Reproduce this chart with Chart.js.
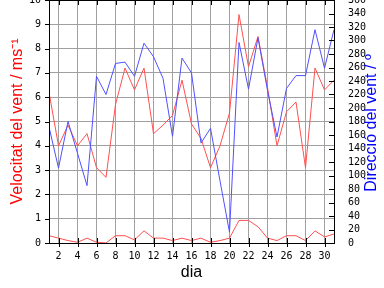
<!DOCTYPE html>
<html>
<head>
<meta charset="utf-8">
<script src="https://cdn.jsdelivr.net/npm/chart.js@4/dist/chart.umd.min.js"></script>
<style>
body { margin: 0; background: #fff; }
</style>
</head>
<body>
<canvas id="wind" width="384" height="288"></canvas>
<script>
let days = [1, 2, 3, 4, 5, 6, 7, 8, 9, 10, 11, 12, 13, 14, 15, 16, 17, 18, 19, 20, 21, 22, 23, 24, 25, 26, 27, 28, 29, 30, 31]
let speed_max = [6.2, 4.0, 4.85, 4.0, 4.5, 3.1, 2.7, 5.7, 7.2, 6.3, 7.2, 4.5, 4.85, 5.25, 6.7, 4.9,
    4.3, 3.1, 4.0, 5.35, 9.4, 7.25, 8.5, 6.4, 4.0, 5.4, 5.8, 3.1, 7.2, 6.3, 6.7]
let speed_mean = [0.3, 0.2, 0.1, 0.03, 0.2, 0.03, 0.0, 0.3, 0.3, 0.13, 0.5, 0.2, 0.2, 0.1, 0.2, 0.1,
    0.2, 0.03, 0.1, 0.2, 0.93, 0.93, 0.67, 0.2, 0.1, 0.3, 0.3, 0.1, 0.5, 0.25, 0.37]
let direction = [172, 111, 180, 133, 85, 247, 220, 266, 268, 247, 296, 276, 244, 158, 274, 252,
    148, 170, 92, 16, 297, 228, 304, 226, 157, 229, 248, 248, 316, 259, 316]
let x_ticks = [2, 4, 6, 8, 10, 12, 14, 16, 18, 20, 22, 24, 26, 28, 30]

let red = '#ff5050'
let blue = '#5050ff'
let grid_color = '#a0a0a0'
let tick_font = { family: 'DejaVu Sans Mono', size: 10 }
let title_font = { family: 'Liberation Sans', size: 16 }

function to_points(values) {
    let pts = []
    for (let i = 0; i < days.length; i++) {
        pts.push({ x: days[i], y: values[i] })
    }
    return pts
}

function no_padding(scale) {
    scale.paddingTop = 0
    scale.paddingBottom = 0
    scale.paddingLeft = 0
    scale.paddingRight = 0
}

let frame_plugin = {
    id: 'frame',
    afterDraw(chart) {
        let ctx = chart.ctx
        let area = chart.chartArea
        let x = chart.scales.x
        let y = chart.scales.y
        let y2 = chart.scales.y2
        ctx.save()
        ctx.strokeStyle = '#000'
        ctx.lineWidth = 1
        ctx.beginPath()
        for (let t of x_ticks) {
            let px = Math.round(x.getPixelForValue(t)) + 0.5
            ctx.moveTo(px, area.bottom + 4)
            ctx.lineTo(px, area.bottom - 5)
            ctx.moveTo(px, area.top)
            ctx.lineTo(px, area.top + 5)
        }
        for (let t of y.ticks) {
            let py = Math.round(y.getPixelForValue(t.value)) + 0.5
            ctx.moveTo(area.left - 4, py)
            ctx.lineTo(area.left, py)
        }
        for (let t of y2.ticks) {
            let py = Math.round(y2.getPixelForValue(t.value)) + 0.5
            ctx.moveTo(area.right, py)
            ctx.lineTo(area.right - 5, py)
        }
        ctx.stroke()
        ctx.strokeRect(area.left + 0.5, area.top + 0.5, area.right - area.left, area.bottom - area.top)

        // right title reads upwards like the left one
        ctx.translate(372, 123)
        ctx.rotate(-Math.PI / 2)
        ctx.font = '16px "Liberation Sans"'
        ctx.fillStyle = '#0000ff'
        ctx.textAlign = 'center'
        ctx.textBaseline = 'middle'
        ctx.fillText('Direcció del vent / º', 0, 0)
        ctx.restore()
    }
}

let chart = new Chart(document.getElementById('wind').getContext('2d'), {
    type: 'line',
    data: {
        datasets: [{
            label: 'direccio',
            data: to_points(direction),
            yAxisID: 'y2',
            borderColor: blue,
            borderWidth: 1,
            pointRadius: 0,
            tension: 0
        }, {
            label: 'maxima',
            data: to_points(speed_max),
            yAxisID: 'y',
            borderColor: red,
            borderWidth: 1,
            pointRadius: 0,
            tension: 0
        }, {
            label: 'mitjana',
            data: to_points(speed_mean),
            yAxisID: 'y',
            borderColor: red,
            borderWidth: 1,
            pointRadius: 0,
            tension: 0
        }]
    },
    options: {
        responsive: false,
        animation: false,
        devicePixelRatio: 1,
        layout: { padding: 0 },
        plugins: {
            legend: { display: false },
            tooltip: { enabled: false }
        },
        scales: {
            x: {
                type: 'linear',
                min: 1,
                max: 31,
                afterBuildTicks: (scale) => {
                    scale.ticks = x_ticks.map(v => ({ value: v }))
                },
                afterFit: (scale) => {
                    scale.height = 45
                    no_padding(scale)
                },
                grid: { color: grid_color, drawTicks: false },
                border: { display: false },
                ticks: { color: '#000', font: tick_font, padding: 7, maxRotation: 0, autoSkip: false },
                title: { display: true, text: 'dia', color: '#000', font: title_font, padding: { top: 0, bottom: 6 } }
            },
            y: {
                position: 'left',
                min: 0,
                max: 10,
                afterFit: (scale) => {
                    scale.width = 49
                    no_padding(scale)
                },
                grid: { color: grid_color, drawTicks: false },
                border: { display: false },
                ticks: { stepSize: 1, color: '#000', font: tick_font, padding: 8, autoSkip: false },
                title: { display: true, text: 'Velocitat del vent / ms⁻¹', color: '#ff0000', font: title_font, padding: { top: 8, bottom: 0 } }
            },
            y2: {
                position: 'right',
                min: 0,
                max: 360,
                afterFit: (scale) => {
                    scale.width = 50
                    no_padding(scale)
                },
                grid: { display: false, drawTicks: false },
                border: { display: false },
                ticks: { stepSize: 20, color: '#000', font: tick_font, padding: 14, autoSkip: false }
            }
        }
    },
    plugins: [frame_plugin]
})
</script>
</body>
</html>
